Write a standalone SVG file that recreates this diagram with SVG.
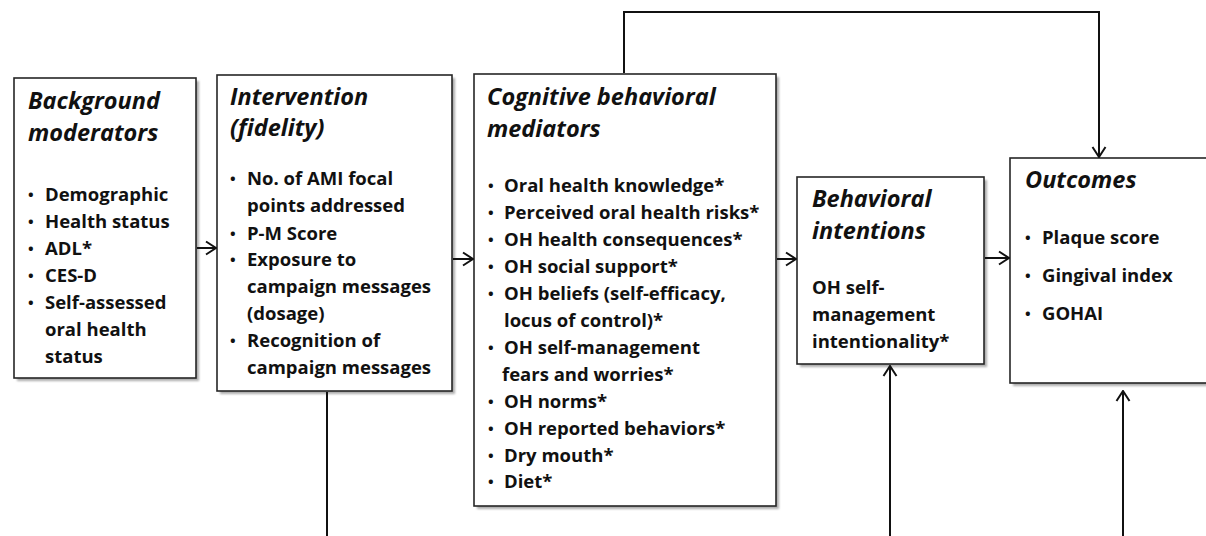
<svg xmlns="http://www.w3.org/2000/svg" width="1206" height="536" viewBox="0 0 1206 536">
<style>
.box{fill:#fff;stroke:#262626;stroke-width:1.6}
.sh{fill:#8a8a8a;opacity:.7}
.hd{font-family:"Open Sans",Lato,"Liberation Sans",sans-serif;font-weight:700;font-style:italic;font-size:23.5px;fill:#111}
.tx{font-family:"Open Sans",Lato,"Liberation Sans",sans-serif;font-weight:700;font-size:18.5px;fill:#111}
.b{font-size:15px}
.cn{fill:none;stroke:#111;stroke-width:2}
</style>
<defs>
<filter id="blur" x="-5%" y="-5%" width="110%" height="110%"><feGaussianBlur stdDeviation="1.2"/></filter>
<marker id="ah" viewBox="0 0 12 16" refX="11" refY="8" markerWidth="12" markerHeight="16" markerUnits="userSpaceOnUse" orient="auto">
<path d="M1,1.5 L11,8 L1,14.5" fill="none" stroke="#111" stroke-width="2"/>
</marker>
</defs>
<rect width="1206" height="536" fill="#fff"/>

<g id="background-moderators">
<rect class="sh" x="17" y="81" width="182" height="300" filter="url(#blur)"/>
<rect class="box" x="14" y="78" width="182" height="300"/>
<text class="hd" x="28" y="109">Background</text>
<text class="hd" x="28" y="141">moderators</text>
<text class="tx"><tspan class="b" x="28" y="200">•</tspan><tspan x="45" y="201">Demographic</tspan></text>
<text class="tx"><tspan class="b" x="28" y="227">•</tspan><tspan x="45" y="228">Health status</tspan></text>
<text class="tx"><tspan class="b" x="28" y="254">•</tspan><tspan x="45" y="255">ADL*</tspan></text>
<text class="tx"><tspan class="b" x="28" y="281">•</tspan><tspan x="45" y="282">CES-D</tspan></text>
<text class="tx"><tspan class="b" x="28" y="308">•</tspan><tspan x="45" y="309">Self-assessed</tspan></text>
<text class="tx" x="45" y="336">oral health</text>
<text class="tx" x="45" y="363">status</text>
</g>

<g id="intervention">
<rect class="sh" x="220" y="78" width="235" height="316" filter="url(#blur)"/>
<rect class="box" x="217" y="75" width="235" height="316"/>
<text class="hd" x="230" y="105">Intervention</text>
<text class="hd" x="230" y="136">(fidelity)</text>
<text class="tx"><tspan class="b" x="230" y="184">•</tspan><tspan x="247" y="185">No. of AMI focal</tspan></text>
<text class="tx" x="247" y="212">points addressed</text>
<text class="tx"><tspan class="b" x="230" y="239">•</tspan><tspan x="247" y="240">P-M Score</tspan></text>
<text class="tx"><tspan class="b" x="230" y="265">•</tspan><tspan x="247" y="266">Exposure to</tspan></text>
<text class="tx" x="247" y="293">campaign messages</text>
<text class="tx" x="247" y="320">(dosage)</text>
<text class="tx"><tspan class="b" x="230" y="346">•</tspan><tspan x="247" y="347">Recognition of</tspan></text>
<text class="tx" x="247" y="374">campaign messages</text>
</g>

<g id="cognitive-behavioral-mediators">
<rect class="sh" x="477" y="77" width="302" height="432" filter="url(#blur)"/>
<rect class="box" x="474" y="74" width="302" height="432"/>
<text class="hd" x="487" y="105">Cognitive behavioral</text>
<text class="hd" x="487" y="137">mediators</text>
<text class="tx"><tspan class="b" x="488" y="191">•</tspan><tspan x="504" y="192">Oral health knowledge*</tspan></text>
<text class="tx"><tspan class="b" x="488" y="218">•</tspan><tspan x="504" y="219">Perceived oral health risks*</tspan></text>
<text class="tx"><tspan class="b" x="488" y="245">•</tspan><tspan x="504" y="246">OH health consequences*</tspan></text>
<text class="tx"><tspan class="b" x="488" y="272">•</tspan><tspan x="504" y="273">OH social support*</tspan></text>
<text class="tx"><tspan class="b" x="488" y="299">•</tspan><tspan x="504" y="300">OH beliefs (self-efficacy,</tspan></text>
<text class="tx" x="504" y="327">locus of control)*</text>
<text class="tx"><tspan class="b" x="488" y="353">•</tspan><tspan x="504" y="354">OH self-management</tspan></text>
<text class="tx" x="502" y="381">fears and worries*</text>
<text class="tx"><tspan class="b" x="488" y="407">•</tspan><tspan x="504" y="408">OH norms*</tspan></text>
<text class="tx"><tspan class="b" x="488" y="434">•</tspan><tspan x="504" y="435">OH reported behaviors*</tspan></text>
<text class="tx"><tspan class="b" x="488" y="461">•</tspan><tspan x="504" y="462">Dry mouth*</tspan></text>
<text class="tx"><tspan class="b" x="488" y="487">•</tspan><tspan x="504" y="488">Diet*</tspan></text>
</g>

<g id="behavioral-intentions">
<rect class="sh" x="800" y="180" width="187" height="187" filter="url(#blur)"/>
<rect class="box" x="797" y="177" width="187" height="187"/>
<text class="hd" x="812" y="207">Behavioral</text>
<text class="hd" x="812" y="239">intentions</text>
<text class="tx" x="812" y="294">OH self-</text>
<text class="tx" x="812" y="321">management</text>
<text class="tx" x="812" y="348">intentionality*</text>
</g>

<g id="outcomes">
<rect class="sh" x="1013" y="161" width="230" height="225" filter="url(#blur)"/>
<rect class="box" x="1010" y="158" width="230" height="225"/>
<text class="hd" x="1025" y="188">Outcomes</text>
<text class="tx"><tspan class="b" x="1025" y="243">•</tspan><tspan x="1042" y="244">Plaque score</tspan></text>
<text class="tx"><tspan class="b" x="1025" y="281">•</tspan><tspan x="1042" y="282">Gingival index</tspan></text>
<text class="tx"><tspan class="b" x="1025" y="319">•</tspan><tspan x="1042" y="320">GOHAI</tspan></text>
</g>

<g id="connectors">
<line class="cn" x1="197" y1="248" x2="216" y2="248" marker-end="url(#ah)"/>
<line class="cn" x1="453" y1="259" x2="473" y2="259" marker-end="url(#ah)"/>
<line class="cn" x1="777" y1="259" x2="796" y2="259" marker-end="url(#ah)"/>
<line class="cn" x1="985" y1="258" x2="1009" y2="258" marker-end="url(#ah)"/>
<line class="cn" x1="327" y1="392" x2="327" y2="536"/>
<line class="cn" x1="890" y1="536" x2="890" y2="366" marker-end="url(#ah)"/>
<line class="cn" x1="1123" y1="536" x2="1123" y2="391" marker-end="url(#ah)"/>
<polyline class="cn" points="624,73 624,12 1099,12 1099,157" marker-end="url(#ah)"/>
</g>
</svg>
